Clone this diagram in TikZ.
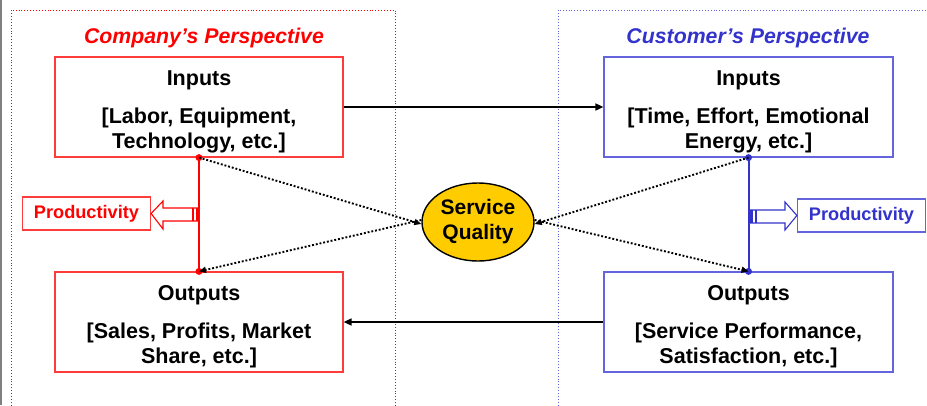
\documentclass[tikz,border=0pt]{standalone}
\usepackage{fontspec}
\setmainfont{Liberation Sans}
\usetikzlibrary{arrows.meta,shapes.geometric}
\definecolor{compred}{RGB}{255,0,0}
\definecolor{boxred}{RGB}{255,60,60}
\definecolor{custblue}{RGB}{51,51,204}
\definecolor{boxblue}{RGB}{100,100,220}
\definecolor{sqgold}{RGB}{255,204,0}
\newcommand{\topstrut}{\rule{0pt}{24pt}}
\tikzset{
  bigfont/.style={font=\fontsize{21.5}{24.5}\selectfont\bfseries},
  panel/.style={draw, line width=1.2pt, fill=white, minimum width=288pt, minimum height=100pt,
    inner sep=0pt, align=center, bigfont, text=black},
  prodbox/.style={draw, line width=1.2pt, fill=white, minimum width=128pt, minimum height=33pt,
    inner sep=0pt, font=\fontsize{18.2}{20}\selectfont\bfseries},
  frame/.style={dotted, line width=0.9pt},
  solidarrow/.style={line width=1.6pt, -{Triangle[length=8pt,width=7pt]}},
  dotarrow/.style={line width=1.9pt, dash pattern=on 1.9pt off 1.9pt, -{Triangle[length=7pt,width=6pt]}},
  joint/.style={circle, fill, inner sep=0pt, minimum size=7pt},
  hollow/.style={line width=1.1pt, fill=white}
}
\begin{document}
\begin{tikzpicture}[x=1pt,y=-1pt]
  \useasboundingbox (0,0) rectangle (927,405);
  % page edge line
  \draw[gray, line width=1.2pt] (1,0) -- (1,405);
  % perspective frames
  \draw[frame, compred] (11,420) -- (11,10) -- (395,10) -- (395,420);
  \draw[frame, boxblue] (558,420) -- (558,10) -- (940,10);
  \node[font=\fontsize{21.3}{24}\selectfont\bfseries\itshape, text=compred] (ct) at (204,38) {Company’s Perspective};
  \node[font=\fontsize{21.3}{24}\selectfont\bfseries\itshape, text=custblue] (cu) at (748,38) {Customer’s Perspective};

  % input and output panels
  \node[panel, draw=boxred] (ri) at (199,107) {\topstrut Inputs\\[14pt]{[}Labor, Equipment,\\Technology, etc.{]}};
  \node[panel, draw=boxred] (ro) at (199,322) {\topstrut Outputs\\[14pt]{[}Sales, Profits, Market\\Share, etc.{]}};
  \node[panel, draw=boxblue, minimum width=289pt] (bi) at (748.5,107) {\topstrut Inputs\\[14pt]{[}Time, Effort, Emotional\\Energy, etc.{]}};
  \node[panel, draw=boxblue, minimum width=289pt] (bo) at (748.5,322) {\topstrut Outputs\\[14pt]{[}Service Performance,\\Satisfaction, etc.{]}};

  % service quality
  \node[ellipse, draw, line width=1.4pt, fill=sqgold, minimum width=112pt, minimum height=78pt,
        inner sep=0pt, align=center, font=\fontsize{21}{25}\selectfont\bfseries] (sq) at (478,222) {Service\\Quality};

  % productivity labels
  \node[prodbox, draw=boxred, text=compred] (rp) at (86.5,213.5) {Productivity};
  \node[prodbox, draw=boxblue, text=custblue] (bp) at (861.5,215.5) {Productivity};

  % flows between the two sides
  \draw[solidarrow] (ri.east) -- (bi.west);
  \draw[solidarrow] (bo.west) -- (ro.east);

  % productivity links
  \draw[compred, line width=2pt] (ri.south) -- (ro.north);
  \draw[custblue, line width=2pt] (bi.south) -- (bo.north);

  % hollow productivity arrows
  \draw[hollow, draw=compred] (199,208) -- (163,208) -- (163,201) -- (rp.east) -- (163,229) -- (163,221) -- (199,221) -- cycle;
  \fill[compred] (192,208) rectangle (194,221);
  \fill[compred] (196,208) rectangle (199,221);
  \draw[hollow, draw=custblue] (749,210) -- (785,210) -- (785,202) -- (bp.west) -- (785,230) -- (785,223) -- (749,223) -- cycle;
  \fill[custblue] (749,210) rectangle (753,223);
  \fill[custblue] (755,210) rectangle (757,223);

  % joints
  \node[joint, compred] (rj1) at (ri.south) {};
  \node[joint, compred] (rj2) at (ro.north) {};
  \node[joint, custblue] (bj1) at (bi.south) {};
  \node[joint, custblue] (bj2) at (bo.north) {};

  % quality links
  \draw[dotarrow] (rj1.center) -- ([yshift=-2pt]sq.west);
  \draw[dotarrow] ([yshift=2pt]sq.west) -- (rj2.center);
  \draw[dotarrow] (bj1.center) -- ([yshift=-2pt]sq.east);
  \draw[dotarrow] ([yshift=2pt]sq.east) -- (bj2.center);
\end{tikzpicture}
\end{document}
